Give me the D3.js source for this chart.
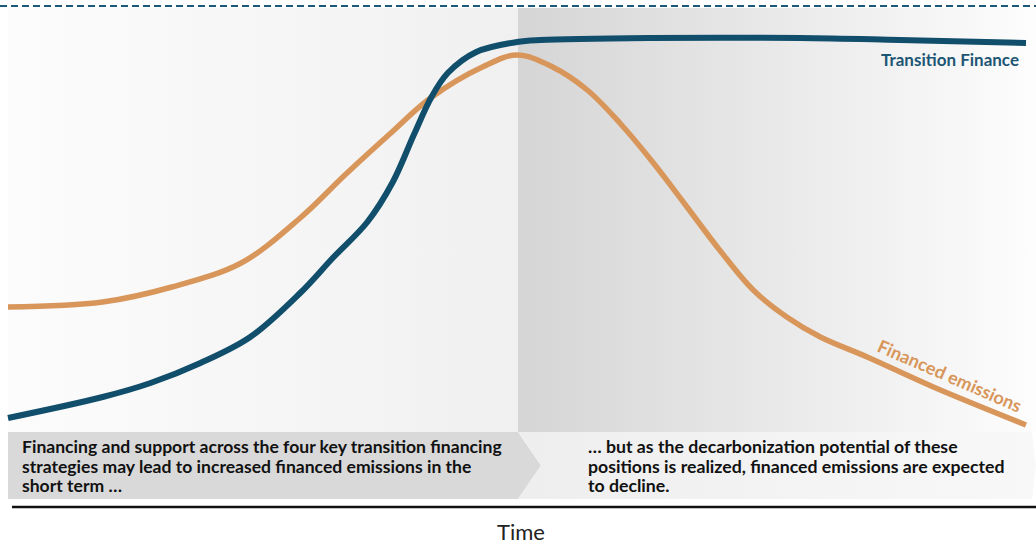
<!DOCTYPE html>
<html>
<head>
<meta charset="utf-8">
<script src="https://cdn.jsdelivr.net/npm/d3@7"></script>
<style>
  html, body { margin: 0; padding: 0; background: #ffffff; }
  svg { display: block; }
</style>
</head>
<body>
<svg id="chart" width="1036" height="546"></svg>
<script>
// ---- DATA (time index 0..100, relative level 0..100) ----
const financeTime   = [0, 9.3, 14.0, 18.9, 23.8, 28.7, 31.9, 35.3, 37.8, 39.9, 41.6, 43.2, 46, 50, 52.3, 63, 77.8, 87.6, 100];
const financeValues = [5.5, 10.75, 14.25, 19.25, 25.75, 36.75, 45.5, 54.5, 64.5, 76.5, 85.75, 91.75, 97, 99.5, 100, 100.5, 100.5, 100, 99.25];

const emissionsTime   = [0, 9.3, 16.1, 22.9, 28.7, 33.2, 37.5, 41.5, 46.6, 50, 53.5, 56.9, 60.1, 63.4, 66.7, 69.9, 73.2, 76.5, 79.8, 84.4, 90.9, 100];
const emissionsValues = [33.25, 34.5, 38.25, 44.25, 55.5, 66.5, 76.5, 85.5, 93.25, 96.25, 93.25, 87.5, 79.25, 69.25, 58.25, 47.5, 37.5, 30.75, 25.75, 20.75, 13.25, 3.75];

const seriesNames = ["Transition Finance", "Financed emissions"];
const phaseText = [
  ["Financing and support across the four key transition financing",
   "strategies may lead to increased financed emissions in the",
   "short term \u2026"],
  ["\u2026 but as the decarbonization potential of these",
   "positions is realized, financed emissions are expected",
   "to decline."]
];
const axisTitle = "Time";
const phaseSplit = 50; // time index where the phases change

// ---- LAYOUT ----
const svg = d3.select("#chart");
const W = 1036;
const x = d3.scaleLinear().domain([0, 100]).range([8, 1026]);
const y = d3.scaleLinear().domain([0, 100]).range([440, 40]);
const blue = "#104e6b", orange = "#d8965a";

const defs = svg.append("defs");
const gl = defs.append("linearGradient").attr("id", "gLeft");
gl.append("stop").attr("offset", "0%").attr("stop-color", "#fcfcfc");
gl.append("stop").attr("offset", "100%").attr("stop-color", "#f0f0f0");
const gr = defs.append("linearGradient").attr("id", "gRight");
gr.append("stop").attr("offset", "0%").attr("stop-color", "#d5d5d5");
gr.append("stop").attr("offset", "100%").attr("stop-color", "#fdfdfd");
const gb = defs.append("linearGradient").attr("id", "gBoxR");
gb.append("stop").attr("offset", "0%").attr("stop-color", "#eeeeee");
gb.append("stop").attr("offset", "100%").attr("stop-color", "#f8f8f8");
defs.append("filter").attr("id", "blur").append("feGaussianBlur").attr("stdDeviation", 1.6);

const xs = x(phaseSplit) + 1; // phase boundary
const panelTop = 8, panelBot = 432;

// panels
svg.append("rect").attr("x", x(0)).attr("y", panelTop).attr("width", xs - x(0)).attr("height", panelBot - panelTop).attr("fill", "url(#gLeft)");
svg.append("rect").attr("x", xs).attr("y", panelTop).attr("width", W - xs).attr("height", panelBot - panelTop).attr("fill", "url(#gRight)");

// top dashed line + soft shadow dashes
svg.append("line").attr("x1", 0).attr("x2", W).attr("y1", 13).attr("y2", 13)
  .attr("stroke", "#cfcfcf").attr("stroke-width", 5).attr("stroke-dasharray", "7 4").attr("filter", "url(#blur)");
svg.append("line").attr("x1", 0).attr("x2", W).attr("y1", 6).attr("y2", 6)
  .attr("stroke", "#1a5a78").attr("stroke-width", 2).attr("stroke-dasharray", "7 4");

// bottom chevron boxes
const bTop = 432, bBot = 499, bMid = (bTop + bBot) / 2, tip = 23;
svg.append("path")
  .attr("d", `M${x(0)},${bTop} L${xs},${bTop} L${xs + tip},${bMid} L${xs},${bBot} L${x(0)},${bBot} Z`)
  .attr("fill", "#d9d9d9");
svg.append("path")
  .attr("d", `M${xs},${bTop} L${W - 4},${bTop} L${W},${bMid} L${W - 4},${bBot} L${xs},${bBot} L${xs + tip},${bMid} Z`)
  .attr("fill", "url(#gBoxR)");

// lines
const line = d3.line().x(d => x(d[0])).y(d => y(d[1])).curve(d3.curveCatmullRom.alpha(0.5));
const emissions = d3.zip(emissionsTime, emissionsValues);
const finance = d3.zip(financeTime, financeValues);
svg.append("path").datum(emissions).attr("d", line).attr("fill", "none")
  .attr("stroke", orange).attr("stroke-width", 5.5).attr("stroke-linecap", "butt");
svg.append("path").datum(finance).attr("d", line).attr("fill", "none")
  .attr("stroke", blue).attr("stroke-width", 6).attr("stroke-linecap", "butt");

// series labels
svg.append("text").attr("x", 1019).attr("y", 66).attr("text-anchor", "end")
  .attr("font-family", "Lato, sans-serif").attr("font-weight", 700).attr("font-size", 17)
  .attr("fill", "#1d5675").text(seriesNames[0]);
svg.append("text").attr("transform", "translate(876,351) rotate(23.5)")
  .attr("font-family", "Lato, sans-serif").attr("font-weight", 700).attr("font-size", 18)
  .attr("fill", orange).text(seriesNames[1]);

// phase texts
function block(lines, x0, targetW) {
  const t = svg.append("text").attr("font-family", "Lato, sans-serif").attr("font-weight", 700)
    .attr("font-size", 15.5).attr("fill", "#111");
  lines.forEach((s, i) => t.append("tspan").attr("x", x0).attr("y", 453 + i * 19.5).text(s));
  const first = t.select("tspan").node();
  const w = first.getComputedTextLength();
  if (w > 0) t.attr("font-size", 15.5 * targetW / w);
}
block(phaseText[0], 22, 480);
block(phaseText[1], 588, 370);

// baseline axis
svg.append("line").attr("x1", 12).attr("x2", W).attr("y1", 507).attr("y2", 507)
  .attr("stroke", "#111").attr("stroke-width", 2.5);
svg.append("text").attr("x", 521).attr("y", 540).attr("text-anchor", "middle")
  .attr("font-family", "Lato, sans-serif").attr("font-weight", 400).attr("font-size", 22)
  .attr("fill", "#222").text(axisTitle);
</script>
</body>
</html>
